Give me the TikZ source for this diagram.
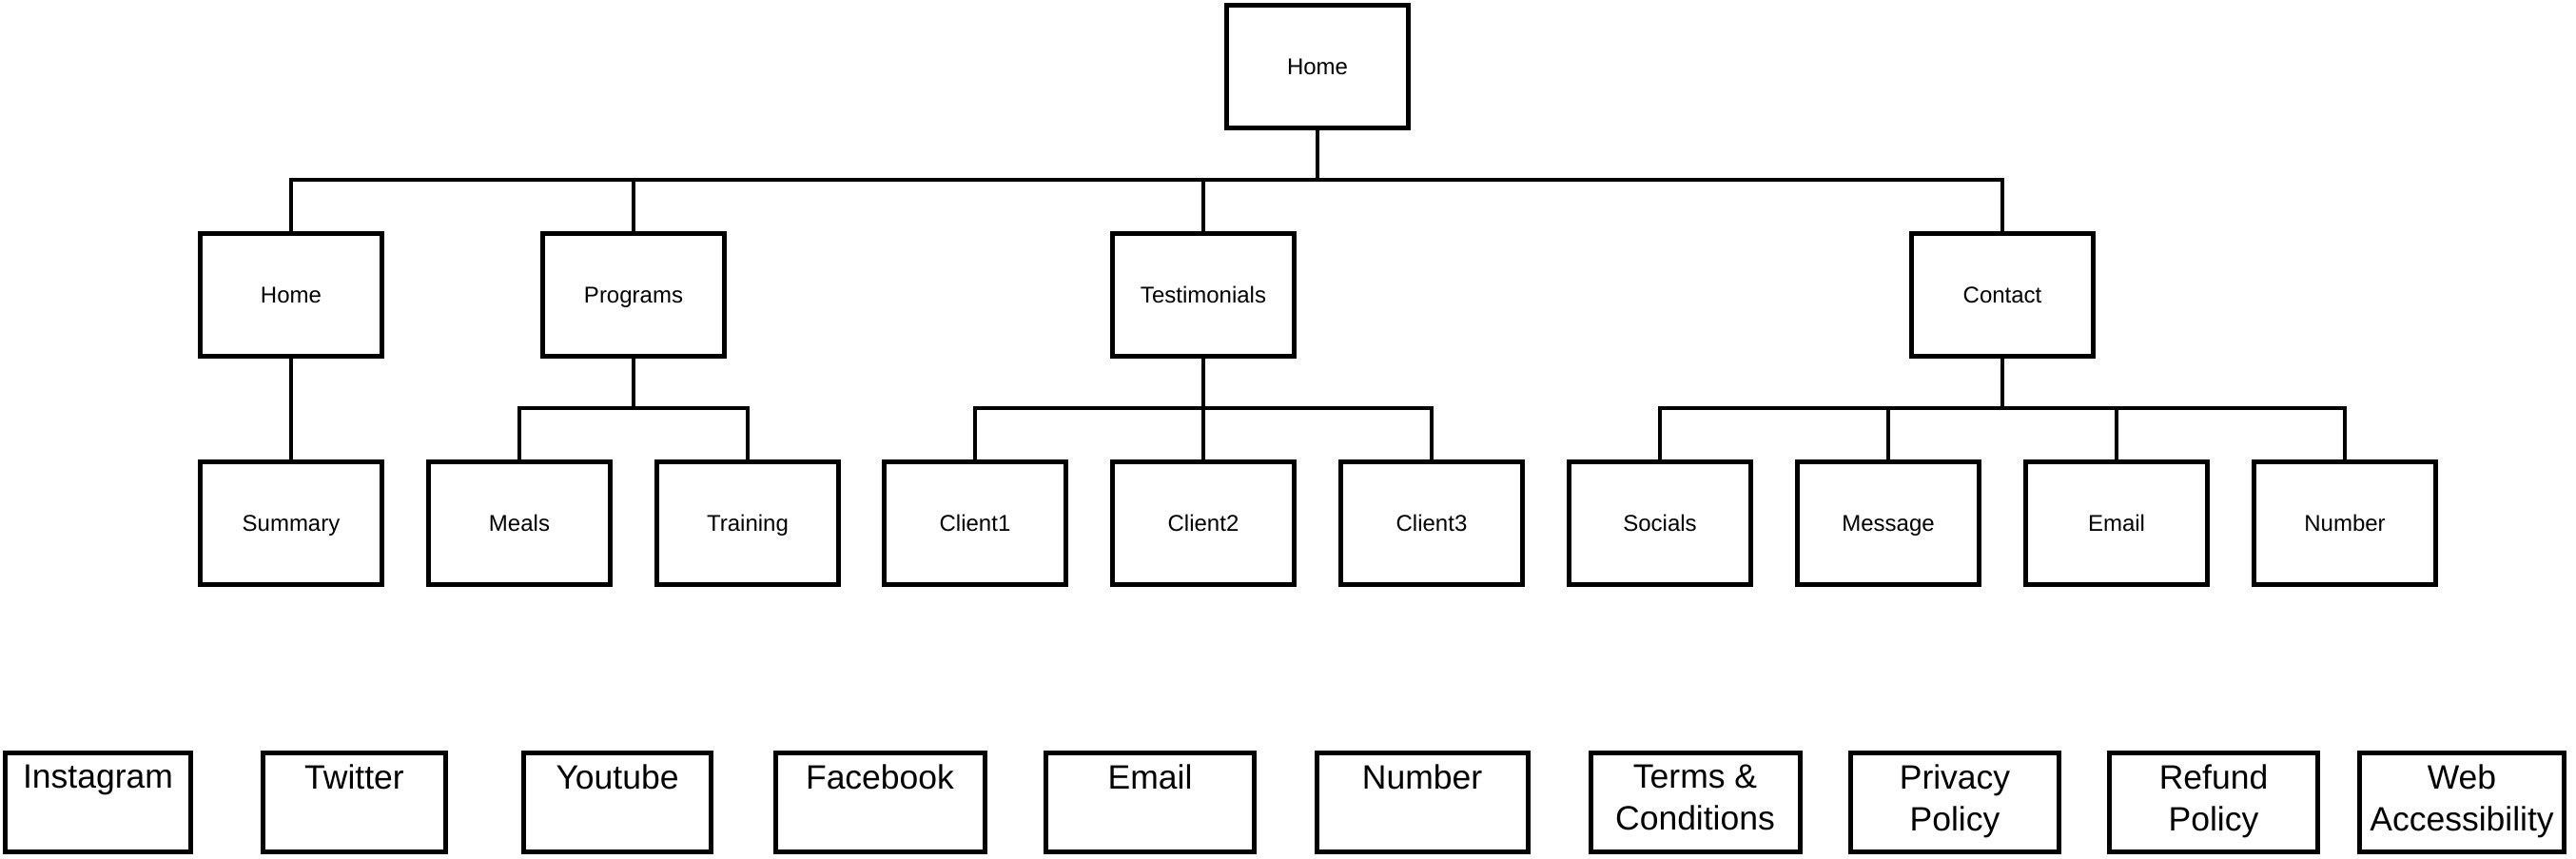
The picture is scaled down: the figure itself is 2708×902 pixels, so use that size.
\documentclass[tikz,border=0pt]{standalone}
\usepackage{fontspec}
\setmainfont{Liberation Sans}
\begin{document}
\begin{tikzpicture}[x=1pt,y=-1pt,
  pagebox/.style={draw, line width=5pt, minimum width=191pt, minimum height=129pt, inner sep=0pt,
    font=\fontsize{24}{29}\selectfont, text height=17pt, text depth=0pt},
  linkbox/.style={draw, line width=5pt, minimum height=104pt, inner sep=0pt},
  linktext/.style={anchor=north, inner sep=0pt, align=center, font=\fontsize{35.5}{44}\selectfont},
  conn/.style={line width=4pt}]
\useasboundingbox (0,0) rectangle (2708,902);
% top
\node[pagebox] (root) at (1385,69.5) {Home};
% level 2
\node[pagebox] (hm) at (306,310) {Home};
\node[pagebox] (prog) at (666,310) {Programs};
\node[pagebox] (test) at (1265,310) {Testimonials};
\node[pagebox] (cont) at (2105,310) {Contact};
% level 3
\node[pagebox] (summ) at (306,549.5) {Summary};
\node[pagebox] (meals) at (546,549.5) {Meals};
\node[pagebox] (train) at (786,549.5) {Training};
\node[pagebox] (cla) at (1025,549.5) {Client1};
\node[pagebox] (clb) at (1265,549.5) {Client2};
\node[pagebox] (clc) at (1505,549.5) {Client3};
\node[pagebox] (soc) at (1745,549.5) {Socials};
\node[pagebox] (msg) at (1985,549.5) {Message};
\node[pagebox] (mail) at (2225,549.5) {Email};
\node[pagebox] (num) at (2465,549.5) {Number};
% connectors
\coordinate (busa) at (1385,189);
\draw[conn] (root.south) -- (busa);
\foreach \c in {hm,prog,test,cont} \draw[conn] (\c.north) |- (busa);
\draw[conn] (hm.south) -- (summ.north);
\coordinate (busb) at (666,429);
\draw[conn] (prog.south) -- (busb);
\foreach \c in {meals,train} \draw[conn] (\c.north) |- (busb);
\coordinate (busc) at (1265,429);
\draw[conn] (test.south) -- (busc);
\foreach \c in {cla,clb,clc} \draw[conn] (\c.north) |- (busc);
\coordinate (busd) at (2105,429);
\draw[conn] (cont.south) -- (busd);
\foreach \c in {soc,msg,mail,num} \draw[conn] (\c.north) |- (busd);
% bottom row
\node[linkbox, minimum width=195pt] (ig) at (103,843.5) {};
\node[linkbox, minimum width=192pt] (tw) at (372.5,843.5) {};
\node[linkbox, minimum width=197pt] (yt) at (649,843.5) {};
\node[linkbox, minimum width=220pt] (fb) at (925,843.5) {};
\node[linkbox, minimum width=219pt] (em) at (1209,843.5) {};
\node[linkbox, minimum width=222pt] (nu) at (1495,843.5) {};
\node[linkbox, minimum width=220pt] (tc) at (1782,843.5) {};
\node[linkbox, minimum width=219pt] (pp) at (2055,843.5) {};
\node[linkbox, minimum width=219pt] (rp) at (2327,843.5) {};
\node[linkbox, minimum width=215pt] (wa) at (2588,843.5) {};
\node[linktext] (igt) at ([yshift=-15pt]ig.north) {Instagram};
\node[linktext] (twt) at ([yshift=-15pt]tw.north) {Twitter};
\node[linktext] (ytt) at ([yshift=-15pt]yt.north) {Youtube};
\node[linktext] (fbt) at ([yshift=-15pt]fb.north) {Facebook};
\node[linktext] (emt) at ([yshift=-15pt]em.north) {Email};
\node[linktext] (nut) at ([yshift=-15pt]nu.north) {Number};
\node[linktext] (tct) at ([yshift=-15pt]tc.north) {Terms \&\\Conditions};
\node[linktext] (ppt) at ([yshift=-15pt]pp.north) {Privacy\\Policy};
\node[linktext] (rpt) at ([yshift=-15pt]rp.north) {Refund\\Policy};
\node[linktext] (wat) at ([yshift=-15pt]wa.north) {Web\\Accessibility};
\end{tikzpicture}
\end{document}
